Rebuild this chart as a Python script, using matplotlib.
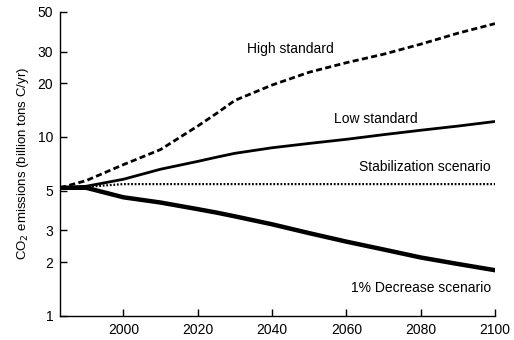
import matplotlib
matplotlib.use("Agg")
import matplotlib.pyplot as plt
from matplotlib.ticker import FixedLocator, NullLocator

plt.rcParams['font.family'] = ['Liberation Sans', 'DejaVu Sans']

# Emission scenarios (billion tons C / yr)
years = [1983, 1990, 2000, 2010, 2020, 2025, 2030, 2040, 2050, 2060, 2070, 2080, 2090, 2100]
high_standard = [5.2, 5.7, 7.0, 8.5, 11.5, 13.5, 16.0, 19.5, 23.0, 26.0, 29.0, 33.0, 38.0, 43.0]
low_standard = [5.2, 5.3, 5.8, 6.6, 7.3, 7.7, 8.1, 8.7, 9.2, 9.7, 10.3, 10.9, 11.5, 12.2]
stab_years = [1983, 1992, 2000, 2100]
stabilization = [5.2, 5.3, 5.45, 5.45]
decrease = [5.2, 5.2, 4.6, 4.3, 3.95, 3.78, 3.6, 3.25, 2.9, 2.6, 2.35, 2.12, 1.95, 1.8]

y_ticks = [1, 2, 3, 5, 10, 20, 30, 50]
x_ticks = [2000, 2020, 2040, 2060, 2080, 2100]

fig = plt.figure(figsize=(5.14, 3.40), dpi=100)
ax = fig.add_axes([0.117, 0.071, 0.846, 0.894])

ax.plot(years, high_standard, color='black', lw=2.0, linestyle=(0, (2.2, 1.2)))
ax.plot(years, low_standard, color='black', lw=2.0)
ax.plot(stab_years, stabilization, color='black', lw=1.6, linestyle=(0, (0.8, 0.8)))
ax.plot(years, decrease, color='black', lw=3.2)

ax.set_yscale('log')
ax.set_ylim(1, 50)
ax.set_xlim(1983, 2100)
ax.yaxis.set_major_locator(FixedLocator(y_ticks))
ax.yaxis.set_minor_locator(NullLocator())
ax.set_yticklabels([str(v) for v in y_ticks])
ax.set_xticks(x_ticks)

for side in ('top', 'right'):
    ax.spines[side].set_visible(False)
for side in ('left', 'bottom'):
    ax.spines[side].set_linewidth(1.0)

ax.tick_params(axis='both', direction='in', length=5, width=1.0, labelsize=10, pad=5)

ax.set_ylabel('CO$_2$ emissions (billion tons C/yr)', fontsize=9.5, labelpad=5)

ax.text(2045, 31.0, 'High standard', fontsize=10, ha='center', va='center')
ax.text(2068, 12.6, 'Low standard', fontsize=10, ha='center', va='center')
ax.text(2081, 6.75, 'Stabilization scenario', fontsize=10, ha='center', va='center')
ax.text(2080, 1.43, '1% Decrease scenario', fontsize=10, ha='center', va='center')

fig.savefig('out.png', dpi=100)
